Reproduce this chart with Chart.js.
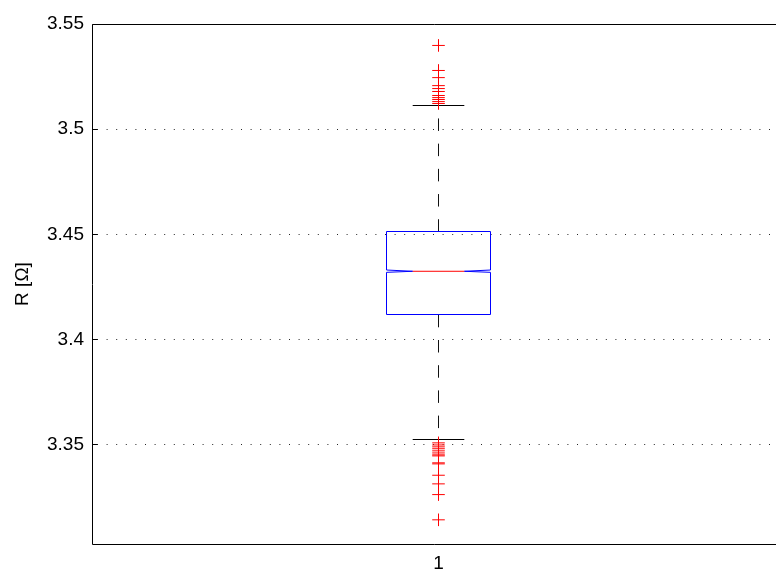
<!DOCTYPE html>
<html>
<head>
<meta charset="utf-8">
<script src="https://cdn.jsdelivr.net/npm/chart.js@4/dist/chart.umd.min.js"></script>
<style>
  html, body { margin: 0; padding: 0; background: #fff; }
</style>
</head>
<body>
<canvas id="c" width="776" height="572"></canvas>
<script>
// Group labels and y-axis ticks
const categories = ['1'];
const tickValues = [3.35, 3.4, 3.45, 3.5, 3.55];
const tickLabels = ['3.35', '3.4', '3.45', '3.5', '3.55'];

// Box statistics for each group
const q1 = [3.4117];
const median = [3.4324];
const q3 = [3.4512];
const notchLow = [3.4319];
const notchHigh = [3.4330];
const whiskerLow = [3.3522];
const whiskerHigh = [3.5112];

// Outliers beyond the whiskers
const outliersHigh = [3.5398, 3.5279, 3.5245, 3.5207, 3.5193, 3.5179, 3.5160, 3.5150, 3.5141, 3.5131, 3.5122];
const outliersLow = [3.3508, 3.3498, 3.3489, 3.3480, 3.3470, 3.3460, 3.3451, 3.3446, 3.3413, 3.3408, 3.3354, 3.3313, 3.3262, 3.3142];

const FONT = { family: '"Liberation Sans", Arial, Helvetica, sans-serif', size: 19 };
const BOX_HALF = 0.0745;   // half box width, in group units
const NOTCH_HALF = BOX_HALF / 2;
const CAP_HALF = BOX_HALF / 2;

const crisp = v => Math.round(v - 0.5) + 0.5;

const boxPlugin = {
  id: 'boxDraw',
  beforeDatasetsDraw(chart) {
    const { ctx, chartArea: a, scales: { x, y } } = chart;
    ctx.save();
    // dotted horizontal grid
    ctx.strokeStyle = 'rgba(0,0,0,0.85)';
    ctx.lineWidth = 1;
    ctx.setLineDash([1, 8.6]);
    tickValues.forEach(v => {
      const py = crisp(y.getPixelForValue(v));
      ctx.beginPath();
      ctx.moveTo(a.left + 5, py);
      ctx.lineTo(a.right, py);
      ctx.stroke();
    });
    ctx.setLineDash([]);

    categories.forEach((c, i) => {
      const cx = i + 1;
      const px = v => x.getPixelForValue(v);
      const py = v => y.getPixelForValue(v);
      const xc = crisp(px(cx));
      const xl = crisp(px(cx - BOX_HALF)), xr = crisp(px(cx + BOX_HALF));
      const nl = px(cx - NOTCH_HALF), nr = px(cx + NOTCH_HALF);

      // whiskers
      ctx.strokeStyle = '#111';
      ctx.lineWidth = 1;
      ctx.setLineDash([12.5, 12.7]);
      ctx.beginPath();
      ctx.moveTo(xc, py(q3[i]));
      ctx.lineTo(xc, py(whiskerHigh[i]));
      ctx.stroke();
      ctx.beginPath();
      ctx.moveTo(xc, py(q1[i]));
      ctx.lineTo(xc, py(whiskerLow[i]));
      ctx.stroke();
      ctx.setLineDash([]);

      // caps
      ctx.strokeStyle = '#000';
      [whiskerHigh[i], whiskerLow[i]].forEach(w => {
        const wy = crisp(py(w));
        ctx.beginPath();
        ctx.moveTo(px(cx - CAP_HALF), wy);
        ctx.lineTo(px(cx + CAP_HALF), wy);
        ctx.stroke();
      });

      // notched box
      const yq1 = crisp(py(q1[i])), yq3 = crisp(py(q3[i]));
      const ym = py(median[i]), ynl = py(notchLow[i]), ynh = py(notchHigh[i]);
      ctx.strokeStyle = '#0000ff';
      ctx.beginPath();
      ctx.moveTo(xl, yq1);
      ctx.lineTo(xl, ynl);
      ctx.lineTo(nl, ym);
      ctx.lineTo(xl, ynh);
      ctx.lineTo(xl, yq3);
      ctx.lineTo(xr, yq3);
      ctx.lineTo(xr, ynh);
      ctx.lineTo(nr, ym);
      ctx.lineTo(xr, ynl);
      ctx.lineTo(xr, yq1);
      ctx.closePath();
      ctx.stroke();

      // median
      ctx.strokeStyle = '#ff0000';
      ctx.beginPath();
      ctx.moveTo(nl, ym);
      ctx.lineTo(nr, ym);
      ctx.stroke();
    });
    ctx.restore();
  },
  afterDraw(chart) {
    const { ctx, chartArea: a, scales: { y } } = chart;
    ctx.save();
    ctx.strokeStyle = '#000';
    ctx.lineWidth = 1;
    const L = crisp(a.left), T = crisp(a.top), B = crisp(a.bottom);
    ctx.beginPath();
    ctx.moveTo(a.right, T);
    ctx.lineTo(L, T);
    ctx.lineTo(L, B);
    ctx.lineTo(a.right, B);
    ctx.stroke();
    // inward tick marks
    tickValues.forEach(v => {
      const py = crisp(y.getPixelForValue(v));
      ctx.beginPath();
      ctx.moveTo(L, py);
      ctx.lineTo(L + 5, py);
      ctx.stroke();
    });
    ctx.restore();
  }
};

new Chart(document.getElementById('c'), {
  type: 'scatter',
  data: {
    datasets: [{
      data: [...outliersHigh, ...outliersLow].map(v => ({ x: 1, y: v })),
      pointStyle: 'cross',
      pointRadius: 6.3,
      pointHoverRadius: 6.3,
      borderColor: '#ff0000',
      backgroundColor: '#ff0000',
      borderWidth: 1,
      pointHoverBorderWidth: 1
    }]
  },
  options: {
    responsive: false,
    devicePixelRatio: 1,
    animation: false,
    events: [],
    layout: { autoPadding: false, padding: { top: 24, right: 0, left: 0, bottom: 0 } },
    plugins: { legend: { display: false }, tooltip: { enabled: false } },
    scales: {
      x: {
        type: 'linear',
        min: 0.5,
        max: 1.487,
        afterBuildTicks: s => { s.ticks = categories.map((c, i) => ({ value: i + 1 })); },
        afterFit: s => { s.height = 28; s.paddingLeft = 0; s.paddingRight = 0; },
        ticks: {
          callback: (v, i) => categories[i],
          font: FONT,
          color: '#000',
          padding: 8,
          maxRotation: 0,
          autoSkip: false
        },
        grid: { display: false, drawTicks: false },
        border: { display: false }
      },
      y: {
        min: 3.3027,
        max: 3.55,
        afterBuildTicks: s => { s.ticks = tickValues.map(v => ({ value: v })); },
        afterFit: s => { s.width = 92; s.paddingTop = 0; s.paddingBottom = 0; },
        ticks: {
          callback: (v, i) => tickLabels[i],
          font: FONT,
          color: '#000',
          padding: 8,
          autoSkip: false
        },
        grid: { display: false, drawTicks: false },
        border: { display: false },
        title: {
          display: true,
          text: 'R [Ω]',
          font: FONT,
          color: '#000',
          padding: { top: 11, bottom: 0 }
        }
      }
    }
  },
  plugins: [boxPlugin]
});
</script>
</body>
</html>
